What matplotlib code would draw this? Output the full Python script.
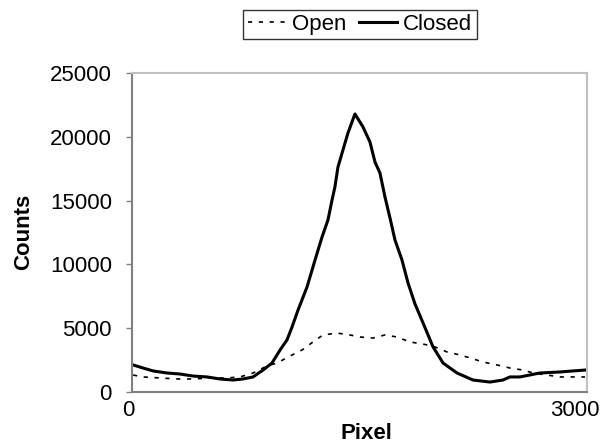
import numpy as np
import matplotlib
matplotlib.use("Agg")
import matplotlib.pyplot as plt
import matplotlib.transforms as mtransforms

# values
open_x = [7, 73, 185, 297, 402, 514, 626, 712, 798, 890, 956, 1042, 1121, 1193,
          1259, 1352, 1437, 1503, 1589, 1668, 1747, 1833, 1919, 1998, 2077, 2163,
          2229, 2314, 2407, 2492, 2578, 2644, 2736, 2822, 2934, 2987]
open_y = [1330, 1180, 1100, 1020, 1020, 1100, 1100, 1180, 1490, 2040, 2270, 2820,
          3290, 3920, 4470, 4620, 4470, 4310, 4230, 4470, 4310, 3920, 3760, 3530,
          3140, 2900, 2670, 2350, 2120, 1880, 1720, 1490, 1330, 1180, 1180, 1180]

closed_x = [7, 73, 139, 231, 316, 402, 494, 580, 666, 732, 798, 864, 923, 976,
            1022, 1055, 1095, 1154, 1207, 1253, 1292, 1319, 1338, 1358, 1391, 1424,
            1470, 1523, 1569, 1602, 1635, 1668, 1701, 1734, 1780, 1820, 1866, 1919,
            1985, 2051, 2143, 2248, 2360, 2446, 2492, 2558, 2690, 2822, 2908, 2987]
closed_y = [2120, 1880, 1650, 1490, 1410, 1250, 1180, 1020, 940, 1020, 1180, 1720,
            2270, 3290, 4080, 5090, 6430, 8230, 10350, 12150, 13480, 15050, 16070,
            17630, 18970, 20300, 21790, 20770, 19590, 18030, 17160, 15280, 13640,
            11910, 10350, 8540, 6900, 5410, 3530, 2270, 1490, 940, 780, 940, 1180,
            1180, 1490, 1570, 1650, 1720]

y_ticks = [0, 5000, 10000, 15000, 20000, 25000]
x_ticks = [0, 3000]

plt.rcParams["font.family"] = ["Liberation Sans", "DejaVu Sans"]
fs = 16

fig = plt.figure(figsize=(6.02, 4.41), dpi=100)
ax = fig.add_axes([132 / 602, 49 / 441, 455 / 602, 319 / 441])

ax.plot(open_x, open_y, color="black", lw=1.2, linestyle=(0, (2.5, 4)), label="Open")
ax.plot(closed_x, closed_y, color="black", lw=2.2, label="Closed")

ax.set_xlim(0, 3000)
ax.set_ylim(0, 25000)
ax.set_yticks(y_ticks)
ax.set_yticklabels([str(v) for v in y_ticks], fontsize=fs)
ax.set_xticks(x_ticks)
ax.set_xticklabels([str(v) for v in x_ticks], fontsize=fs)
ax.tick_params(axis="y", direction="out", length=4.5, width=1, color="#808080", pad=10)
ax.tick_params(axis="x", length=0, pad=6)

# shift the x labels like the original
labs = ax.get_xticklabels()
labs[0].set_transform(labs[0].get_transform() +
                      mtransforms.ScaledTranslation(-4 / 100, 0, fig.dpi_scale_trans))
labs[1].set_transform(labs[1].get_transform() +
                      mtransforms.ScaledTranslation(-12 / 100, 0, fig.dpi_scale_trans))

for s in ["left", "bottom"]:
    ax.spines[s].set_color("#808080")
    ax.spines[s].set_linewidth(1.5)
for s in ["top", "right"]:
    ax.spines[s].set_color("#c0c0c0")
    ax.spines[s].set_linewidth(1.5)

fig.text(24 / 602, 1 - 232 / 441, "Counts", rotation=90, fontsize=fs,
         fontweight="bold", ha="center", va="center")
fig.text(366 / 602, 1 - 439 / 441, "Pixel", fontsize=fs, fontweight="bold",
         ha="center", va="baseline")

leg = fig.legend(loc="center", bbox_to_anchor=(360 / 602, 1 - 24.5 / 441), ncol=2,
                 frameon=True, fancybox=False, fontsize=fs, handlelength=1.7,
                 handletextpad=0.3, columnspacing=0.55, borderpad=0.2,
                 borderaxespad=0)
leg.get_frame().set_edgecolor("black")
leg.get_frame().set_linewidth(1.0)

fig.savefig("out.png", dpi=100)
